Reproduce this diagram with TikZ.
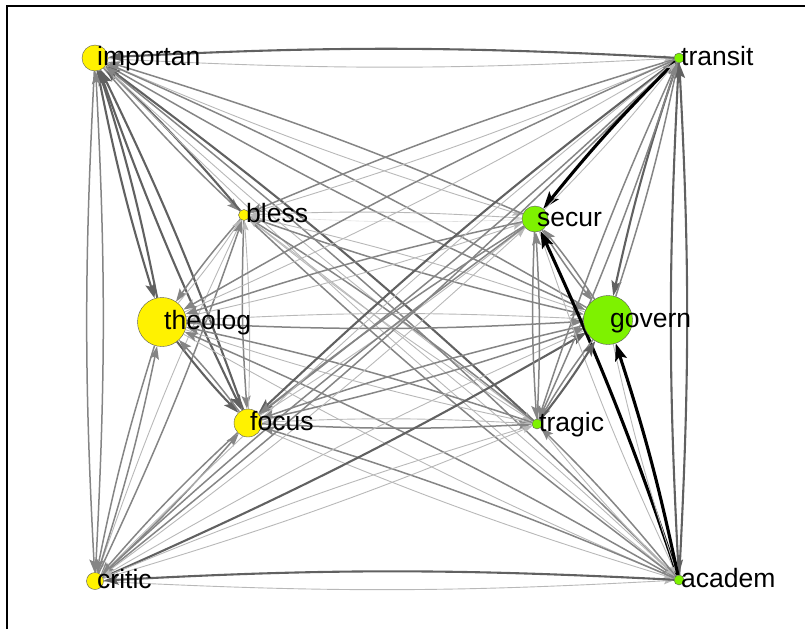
\documentclass[tikz,border=0pt]{standalone}
\usepackage{fontspec}
\setmainfont{Liberation Sans}
\usepackage{xcolor}
\usetikzlibrary{arrows.meta}
\usetikzlibrary{backgrounds}

\definecolor{nodegreen}{RGB}{126,242,0}
\tikzset{
	ynode/.style = {circle, draw = black!65, line width = 0.4pt, fill = yellow, inner sep = 0pt},
	gnode/.style = {circle, draw = black!65, line width = 0.4pt, fill = nodegreen, inner sep = 0pt},
	lbl/.style = {anchor = base west, inner sep = 0pt, font = \fontsize{26.5}{28}\selectfont},
	e0/.style = {draw = black!12, line width = 0.6pt, -{Stealth[length = 8pt, width = 6pt, inset = 1.5pt]}},
	e1/.style = {draw = black!28, line width = 0.9pt, -{Stealth[length = 10pt, width = 7pt, inset = 2pt]}},
	e2/.style = {draw = black!48, line width = 1.5pt, -{Stealth[length = 13pt, width = 9pt, inset = 2.5pt]}},
	e3/.style = {draw = black!62, line width = 2.1pt, -{Stealth[length = 15pt, width = 10pt, inset = 3pt]}},
	e4/.style = {draw = black, line width = 3.1pt, -{Stealth[length = 17pt, width = 12pt, inset = 3.5pt]}}
}

\begin{document}
\begin{tikzpicture}[x = 1pt, y = -1pt]
		\useasboundingbox (0,0) rectangle (805,629);
		\draw [line width = 1.6pt] (7,629) -- (7,6) -- (805,6);
		\node[ynode, minimum size = 26pt] (imp) at (95,58) {};
		\node[ynode, minimum size = 11pt] (bls) at (244,215) {};
		\node[ynode, minimum size = 49pt] (the) at (162,322) {};
		\node[ynode, minimum size = 28pt] (foc) at (248,423) {};
		\node[ynode, minimum size = 17pt] (cri) at (95,581) {};
		\node[gnode, minimum size = 10pt] (tra) at (679,58) {};
		\node[gnode, minimum size = 26pt] (sec) at (535,219) {};
		\node[gnode, minimum size = 49pt] (gov) at (608,320) {};
		\node[gnode, minimum size = 10pt] (trg) at (537,424) {};
		\node[gnode, minimum size = 10pt] (aca) at (679,580) {};
		\foreach \n/\t in {imp/importan, bls/bless, the/theolog, foc/focus, cri/critic,
			tra/transit, sec/secur, gov/govern, trg/tragic, aca/academ}{
			\node[lbl] (\n-l) at ([xshift = 2pt, yshift = -7.5pt]\n.center) {\t};
			}
		\begin{scope}[on background layer]
		\foreach \a/\b/\w in {
			imp/bls/2, bls/imp/3, imp/the/3, the/imp/3, imp/foc/3, foc/imp/3,
			imp/cri/2, cri/imp/2, imp/tra/1, tra/imp/3, imp/sec/1, sec/imp/2,
			imp/gov/2, gov/imp/2, imp/trg/1, trg/imp/3, imp/aca/1, aca/imp/2,
			bls/the/2, the/bls/1, bls/foc/2, foc/bls/1, bls/cri/1, cri/bls/2,
			bls/tra/1, tra/bls/2, bls/sec/0, sec/bls/1, bls/gov/2, gov/bls/1,
			bls/trg/1, trg/bls/2, bls/aca/2, aca/bls/1,
			the/foc/3, foc/the/2, the/cri/2, cri/the/2, the/tra/1, tra/the/2,
			the/sec/1, sec/the/2, the/gov/2, gov/the/1, the/trg/1, trg/the/2,
			the/aca/1, aca/the/2,
			foc/cri/2, cri/foc/2, foc/tra/2, tra/foc/3, foc/sec/1, sec/foc/2,
			foc/gov/2, gov/foc/2, foc/trg/2, trg/foc/1, foc/aca/1, aca/foc/2,
			cri/tra/2, tra/cri/1, cri/sec/1, sec/cri/2, cri/gov/3, gov/cri/1,
			cri/trg/1, trg/cri/1, cri/aca/1, aca/cri/3,
			tra/sec/4, sec/tra/1, tra/gov/3, gov/tra/2, tra/trg/2, trg/tra/2,
			tra/aca/3, aca/tra/3,
			sec/gov/2, gov/sec/2, sec/trg/2, trg/sec/2, sec/aca/1, aca/sec/4,
			gov/trg/2, trg/gov/3, gov/aca/1, aca/gov/4,
			trg/aca/1, aca/trg/2}{
			\draw [e\w] (\a) to [bend right = 3] (\b);
			}
		\end{scope}
	\end{tikzpicture}
\end{document}
